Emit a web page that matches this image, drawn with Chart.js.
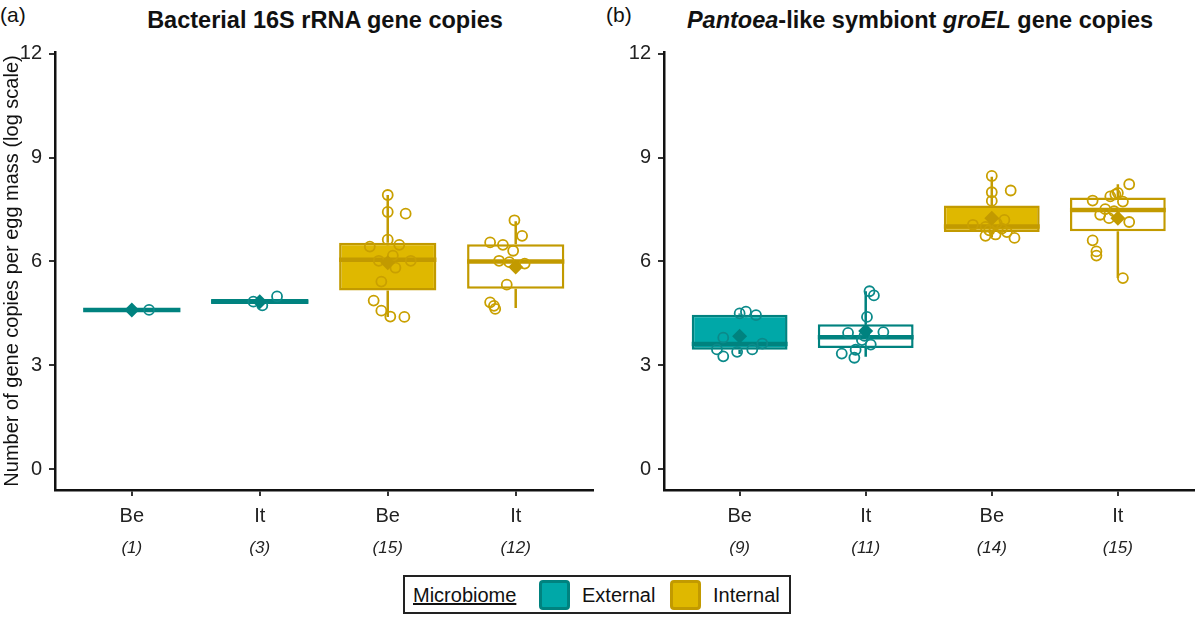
<!DOCTYPE html>
<html><head><meta charset="utf-8">
<script src="https://cdn.jsdelivr.net/npm/chart.js@4.4.1/dist/chart.umd.min.js"></script>
<style>
body{margin:0;background:#fff;font-family:"Liberation Sans",Arial,sans-serif;color:#111;}
#wrap{position:relative;width:1201px;height:617px;overflow:hidden;background:#fff;}
.tag{position:absolute;top:3px;font-size:21px;}
.title{position:absolute;top:7px;width:600px;font-size:23.5px;font-weight:bold;text-align:center;white-space:nowrap;}
canvas{position:absolute;top:0;}
#legend{position:absolute;left:403px;top:575px;width:388px;height:39px;border:2px solid #222;box-sizing:border-box;font-size:20px;}
#legend span{position:absolute;top:7px;}
#legend .sw{position:absolute;top:3px;width:31px;height:30px;border:3px solid;border-radius:4px;box-sizing:border-box;}
</style></head>
<body><div id="wrap">
<div class="tag" style="left:0">(a)</div>
<div class="title" style="left:25px">Bacterial 16S rRNA gene copies</div>
<div class="tag" style="left:606px">(b)</div>
<div class="title" style="left:620px"><i>Pantoea</i>-like symbiont <i>groEL</i> gene copies</div>
<canvas id="ca" width="600" height="560" style="left:0"></canvas>
<canvas id="cb" width="601" height="560" style="left:600px"></canvas>
<div id="legend">
  <span style="left:8px;text-decoration:underline">Microbiome</span>
  <div class="sw" style="left:134px;background:#00A8A8;border-color:#00827F"></div>
  <span style="left:177px">External</span>
  <div class="sw" style="left:265px;background:#DFB800;border-color:#C29A00"></div>
  <span style="left:308px">Internal</span>
</div>
</div>
<script>
const categories = ['Be','It','Be','It'];
const microbiome = ['External','External','Internal','Internal'];
const nA = ['(1)','(3)','(15)','(12)'];
const nB = ['(9)','(11)','(14)','(15)'];
const yTicks = [0,3,6,9,12];

// Panel (a) box statistics
const aQ1      = [4.60, 4.785, 5.16, 5.21];
const aMedian  = [4.60, 4.84, 6.05, 6.00];
const aQ3      = [4.60, 4.915, 6.54, 6.50];
const aWhiskLo = [4.60, 4.73, 4.40, 4.66];
const aWhiskHi = [4.60, 4.99, 7.92, 7.16];
const aMean    = [4.60, 4.84, 5.96, 5.84];
const aPoints = [
  [4.60],
  [4.99, 4.73, 4.84],
  [7.92, 7.43, 7.38, 6.63, 6.43, 6.48, 6.17, 6.02, 6.02, 5.82, 5.42, 4.87, 4.58, 4.41, 4.40],
  [7.19, 6.74, 6.55, 6.48, 6.31, 6.02, 5.98, 5.94, 5.33, 4.82, 4.72, 4.63]
];
const aJitter = [
  [0.135],
  [0.135, 0.02, -0.05],
  [0, 0, 0.14, 0, -0.14, 0.09, 0.04, -0.07, 0.18, 0.06, -0.05, -0.11, -0.05, 0.02, 0.13],
  [-0.01, 0.05, -0.20, -0.10, -0.02, -0.13, -0.05, 0.07, -0.07, -0.20, -0.17, -0.16]
];

// Panel (b) box statistics
const bQ1      = [3.45, 3.50, 6.85, 6.87];
const bMedian  = [3.62, 3.81, 7.01, 7.49];
const bQ3      = [4.46, 4.19, 7.62, 7.85];
const bWhiskLo = [3.33, 3.25, 6.70, 5.52];
const bWhiskHi = [4.50, 5.14, 8.45, 8.23];
const bMean    = [3.84, 3.99, 7.25, 7.25];
const bPoints = [
  [4.50, 4.55, 4.45, 3.80, 3.63, 3.46, 3.26, 3.39, 3.46],
  [5.14, 5.02, 4.40, 3.94, 3.96, 3.73, 3.85, 3.60, 3.34, 3.22, 3.45],
  [8.47, 8.05, 8.00, 7.75, 7.20, 7.06, 7.00, 6.95, 6.90, 6.78, 6.74, 6.68, 7.10, 6.85],
  [8.23, 7.76, 7.94, 7.88, 7.98, 7.73, 7.51, 7.35, 7.25, 7.14, 6.61, 6.29, 6.17, 5.52, 7.45]
];
const bJitter = [
  [0, 0.05, 0.13, -0.13, 0.18, -0.18, -0.13, -0.02, 0.10],
  [0.03, 0.065, 0.01, -0.14, 0.14, -0.03, -0.01, 0.04, -0.19, -0.09, -0.08],
  [0, 0.15, 0, 0, 0.10, -0.15, -0.05, 0.08, -0.02, 0.03, -0.05, 0.18, 0.04, 0.12],
  [0.09, -0.20, -0.02, -0.06, 0, 0.04, -0.10, -0.14, -0.07, 0.09, -0.20, -0.17, -0.17, 0.04, -0.03]
];

const COL = {
  External: {fill:'#00A8A8', line:'#00827F', pt:'#0B8A8A'},
  Internal: {fill:'#DFB800', line:'#C29A00', pt:'#C9A000'}
};

function boxFill(i){ return categories[i]==='Be' ? COL[microbiome[i]].fill : '#ffffff'; }

function makePanel(id, st, nLabels, yTitle, yWidth, padRight){
  const boxPlugin = {
    id:'boxExtras',
    beforeDatasetDraw(chart, args){
      if(args.index!==0) return;
      const ctx=chart.ctx, xs=chart.scales.x, ys=chart.scales.y;
      ctx.save(); ctx.lineWidth=2.5; ctx.lineCap='butt';
      for(let i=0;i<categories.length;i++){
        const x=xs.getPixelForValue(i);
        ctx.strokeStyle=COL[microbiome[i]].line;
        ctx.beginPath();
        ctx.moveTo(x, ys.getPixelForValue(st.lo[i])); ctx.lineTo(x, ys.getPixelForValue(st.q1[i]));
        ctx.moveTo(x, ys.getPixelForValue(st.q3[i])); ctx.lineTo(x, ys.getPixelForValue(st.hi[i]));
        ctx.stroke();
      }
      ctx.restore();
    },
    afterDatasetDraw(chart, args){
      if(args.index!==0) return;
      const ctx=chart.ctx, ys=chart.scales.y;
      const meta=chart.getDatasetMeta(0);
      ctx.save(); ctx.lineWidth=4.5; ctx.lineCap='butt';
      for(let i=0;i<categories.length;i++){
        const bar=meta.data[i], half=bar.width/2;
        const y=ys.getPixelForValue(st.med[i]);
        ctx.strokeStyle=COL[microbiome[i]].line;
        ctx.beginPath(); ctx.moveTo(bar.x-half, y); ctx.lineTo(bar.x+half, y); ctx.stroke();
      }
      ctx.restore();
    }
  };
  const ptData=[], ptCol=[];
  st.pts.forEach((arr,i)=>arr.forEach((v,k)=>{ ptData.push({x:i+st.jit[i][k], y:v}); ptCol.push(COL[microbiome[i]].pt); }));
  const tickFont={family:'"Liberation Sans", Arial, sans-serif', size:20};
  new Chart(document.getElementById(id), {
    type:'bar',
    data:{datasets:[
      {type:'bar', order:3, data:categories.map((c,i)=>({x:i, y:[st.q1[i], st.q3[i]]})),
       backgroundColor:categories.map((c,i)=>boxFill(i)),
       borderColor:categories.map((c,i)=>COL[microbiome[i]].line),
       borderWidth:2.5, borderSkipped:false, barPercentage:0.76, categoryPercentage:1},
      {type:'scatter', order:2, data:ptData, pointRadius:5, pointBorderWidth:1.8,
       pointBackgroundColor:'rgba(0,0,0,0)', pointBorderColor:ptCol},
      {type:'scatter', order:1, data:categories.map((c,i)=>({x:i, y:st.mean[i]})), pointStyle:'rectRot',
       pointRadius:7.5, pointBorderWidth:0,
       pointBackgroundColor:categories.map((c,i)=>COL[microbiome[i]].line)}
    ]},
    options:{
      responsive:false, animation:false, devicePixelRatio:1,
      layout:{padding:{top:52, right:padRight, left:0, bottom:0}},
      plugins:{legend:{display:false}, tooltip:{enabled:false}},
      events:[],
      scales:{
        x:{type:'linear', position:'bottom', min:-0.6, max:3.6, offset:false,
           afterBuildTicks:s=>{s.ticks=categories.map((c,i)=>({value:i}));},
           afterFit:s=>{s.height=40;},
           ticks:{callback:(v)=>categories[v], font:tickFont, color:'#222', padding:8, maxRotation:0, autoSkip:false},
           grid:{display:true, offset:false, drawOnChartArea:false, drawTicks:true, tickLength:6, color:'#333', lineWidth:2},
           border:{display:true, color:'#111', width:2.5}},
        x2:{type:'linear', position:'bottom', min:-0.6, max:3.6, axis:'x', offset:false,
           afterBuildTicks:s=>{s.ticks=nLabels.map((c,i)=>({value:i}));},
           afterFit:s=>{s.height=30;},
           ticks:{callback:(v)=>nLabels[v], font:{family:'"Liberation Sans", Arial, sans-serif', size:17, style:'italic'}, color:'#222', padding:8, maxRotation:0, autoSkip:false},
           grid:{display:false, offset:false, drawTicks:false}, border:{display:false}},
        y:{type:'linear', min:-0.6, max:12.05,
           afterBuildTicks:s=>{s.ticks=yTicks.map(v=>({value:v}));},
           afterFit:s=>{s.width=yWidth;},
           ticks:{font:tickFont, color:'#222', padding:7},
           grid:{display:true, drawOnChartArea:false, drawTicks:true, tickLength:6, color:'#333', lineWidth:2},
           border:{display:true, color:'#111', width:2.5},
           title:{display:!!yTitle, text:yTitle, font:tickFont, color:'#111', padding:{top:0,bottom:0}}}
      }
    },
    plugins:[boxPlugin]
  });
}

makePanel('ca', {q1:aQ1, med:aMedian, q3:aQ3, lo:aWhiskLo, hi:aWhiskHi, mean:aMean, pts:aPoints, jit:aJitter},
  nA, 'Number of gene copies per egg mass (log scale)', 55, 7);
makePanel('cb', {q1:bQ1, med:bMedian, q3:bQ3, lo:bWhiskLo, hi:bWhiskHi, mean:bMean, pts:bPoints, jit:bJitter},
  nB, '', 64, 0);
</script>
</body></html>
